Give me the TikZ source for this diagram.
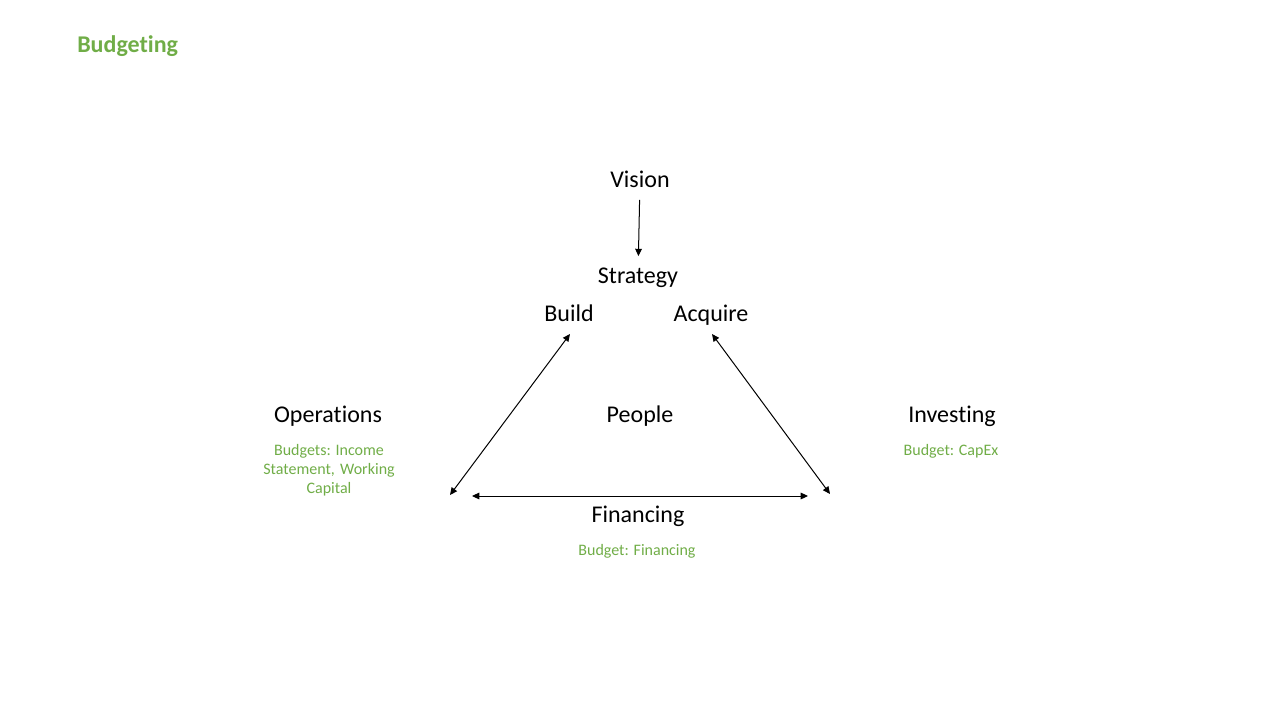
\documentclass[tikz,border=0pt]{standalone}
\usepackage{fontspec}
\setmainfont[Ligatures={NoCommon}]{Carlito}
\usetikzlibrary{arrows.meta, positioning}
\definecolor{budgetGreen}{RGB}{112,173,71}

\begin{document}
\begin{tikzpicture}[
    x=0.75pt, y=-0.75pt,
    label/.style={font=\fontsize{18}{21}\selectfont, inner sep=0pt, text height=11.4pt, text depth=0pt},
    budget/.style={font=\fontsize{12}{14.25}\selectfont, text=budgetGreen, align=center, inner sep=0pt},
    arrow/.style={-{Triangle[length=5.5pt, width=5pt]}, line width=0.75pt},
    twoway/.style={{Triangle[length=5.5pt, width=5pt]}-{Triangle[length=5.5pt, width=5pt]}, line width=0.75pt}
]
\useasboundingbox (0,0) rectangle (1280,720);

\node[anchor=west, font=\fontsize{18}{21}\bfseries\selectfont, text=budgetGreen, inner sep=0pt] (title) at (77,46) {Budgeting};

\node[label] (vision) at (640,180) {Vision};
\node[label] (strategy) at (638,276) {Strategy};
\node[label] (build) at (569,314) {Build};
\node[label] (acquire) at (711,314) {Acquire};
\node[label] (operations) at (328,415) {Operations};
\node[label] (people) at (640,415) {People};
\node[label] (investing) at (952,415) {Investing};
\node[label] (financing) at (638,515) {Financing};

\node[budget] (opsbudget) at (329,470) {Budgets: Income\\Statement,\,\,Working\\Capital};
\node[budget] (invbudget) at (951,451) {Budget: CapEx};
\node[budget] (finbudget) at (637,551) {Budget: Financing};

% triangle corners
\coordinate (leftA) at (450,495);
\coordinate (leftB) at (472,496);
\coordinate (rightA) at (830,494);
\coordinate (rightB) at (808,496);
\coordinate (buildEnd) at (570,334);
\coordinate (acquireEnd) at (712,334);

\draw[arrow, shorten <=9pt, shorten >=9pt] (vision) -- (strategy);
\draw[twoway] (leftA) -- (buildEnd);
\draw[twoway] (acquireEnd) -- (rightA);
\draw[twoway] (leftB) -- (rightB);

\end{tikzpicture}
\end{document}
